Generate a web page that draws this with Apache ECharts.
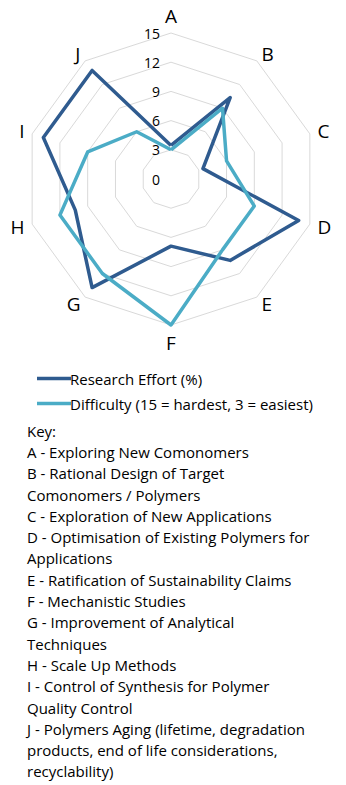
<!DOCTYPE html>
<html>
<head>
<meta charset="utf-8">
<script src="https://cdn.jsdelivr.net/npm/echarts@6/dist/echarts.min.js"></script>
<style>
html,body{margin:0;padding:0;background:#fff;}
#chart{width:346px;height:785px;}
</style>
</head>
<body>
<div id="chart"></div>
<script>
// Categories (clockwise from top)
var categories = ['A','B','C','D','E','F','G','H','I','J'];
// Research Effort (%)
var researchEffort = [3.45, 10.34, 3.45, 13.79, 10.34, 6.90, 13.79, 10.34, 13.79, 13.79];
// Difficulty (15 = hardest, 3 = easiest)
var difficulty = [3, 9, 6, 9, 9, 15, 12, 12, 9, 6];
var seriesNames = ['Research Effort (%)', 'Difficulty (15 = hardest, 3 = easiest)'];
var axisMax = 15;
var keyLines = [
  'Key:',
  'A - Exploring New Comonomers',
  'B - Rational Design of Target',
  'Comonomers / Polymers',
  'C - Exploration of New Applications',
  'D - Optimisation of Existing Polymers for',
  'Applications',
  'E - Ratification of Sustainability Claims',
  'F - Mechanistic Studies',
  'G - Improvement of Analytical',
  'Techniques',
  'H - Scale Up Methods',
  'I - Control of Synthesis for Polymer',
  'Quality Control',
  'J - Polymers Aging (lifetime, degradation',
  'products, end of life considerations,',
  'recyclability)'
];

var FONT = "'Open Sans', 'Noto Sans', sans-serif";
// ECharts radar runs counter-clockwise; reorder so A..J appear clockwise
var order = [0];
for (var i = categories.length - 1; i >= 1; i--) order.push(i);

var indicators = order.map(function (idx, k) {
  var ind = { name: categories[idx], max: axisMax, min: 0 };
  if (k === 0) ind.axisLabel = { show: true };
  return ind;
});

var chart = echarts.init(document.getElementById('chart'), null, { renderer: 'svg' });
chart.setOption({
  animation: false,
  backgroundColor: '#fff',
  legend: {
    orient: 'vertical',
    left: 32,
    top: 366,
    itemWidth: 34,
    itemHeight: 3.5,
    itemGap: 10,
    icon: 'rect',
    textStyle: { fontFamily: FONT, fontSize: 15, color: '#000', padding: [0, 0, 0, -6] },
    data: seriesNames
  },
  radar: {
    center: [171, 179],
    radius: 146,
    startAngle: 90,
    splitNumber: 5,
    shape: 'polygon',
    indicator: indicators,
    axisName: { color: '#000', fontFamily: FONT, fontSize: 19 },
    nameGap: 8,
    axisLine: { show: false },
    axisTick: { show: false },
    axisLabel: { show: false, color: '#000', fontFamily: FONT, fontSize: 14, margin: 11 },
    splitLine: { lineStyle: { color: '#d9d9d9', width: 1 } },
    splitArea: { show: false }
  },
  series: [{
    type: 'radar',
    symbol: 'none',
    data: [
      { name: seriesNames[0], value: order.map(function (i) { return researchEffort[i]; }),
        lineStyle: { color: '#2F5B8F', width: 3.5 }, itemStyle: { color: '#2F5B8F' } },
      { name: seriesNames[1], value: order.map(function (i) { return difficulty[i]; }),
        lineStyle: { color: '#4BACC6', width: 3.5 }, itemStyle: { color: '#4BACC6' } }
    ]
  }],
  graphic: [{
    type: 'text',
    left: 27,
    top: 420,
    style: {
      text: keyLines.join('\n'),
      fontFamily: FONT,
      fontSize: 15,
      lineHeight: 21.3,
      fill: '#000'
    }
  }]
});
</script>
</body>
</html>
